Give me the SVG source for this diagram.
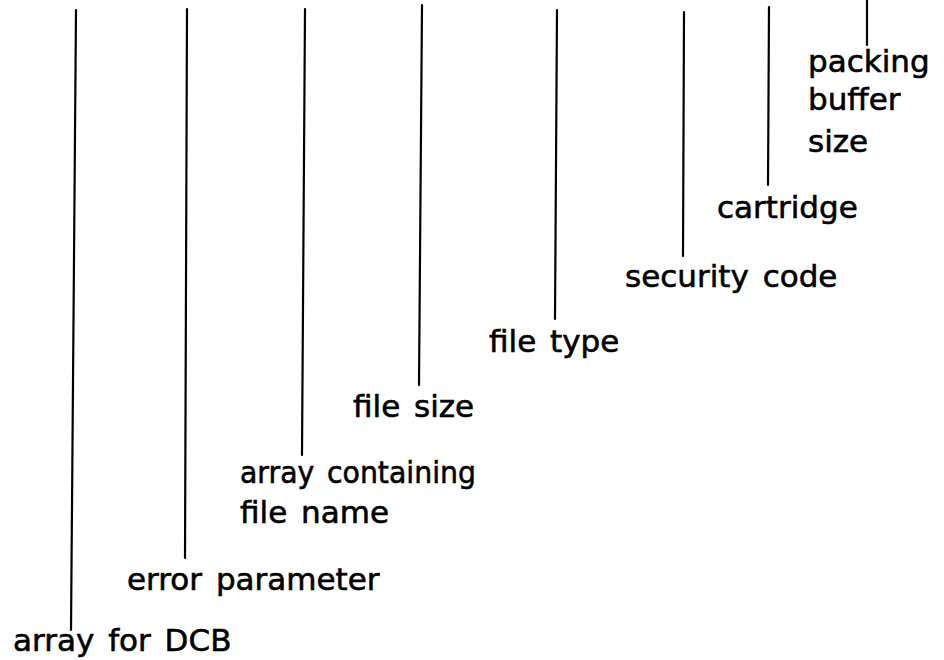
<svg xmlns="http://www.w3.org/2000/svg" width="944" height="660" viewBox="0 0 944 660">
<style>
.ln{stroke:#000;stroke-width:2.2;fill:none;stroke-linecap:round}
.t{font-family:"DejaVu Sans",sans-serif;font-size:31px;fill:#000;stroke:#000;stroke-width:0.6;word-spacing:4px}
</style>
<rect width="944" height="660" fill="#fff"/>
<g id="connectors">
<path class="ln" d="M76,10 L71,630"/>
<path class="ln" d="M187,9 L185,558"/>
<path class="ln" d="M305,9 L302,455"/>
<path class="ln" d="M422,5 L419,385"/>
<path class="ln" d="M557,10 L555,319"/>
<path class="ln" d="M684,12 L683,256"/>
<path class="ln" d="M769,7 L768,185"/>
<path class="ln" d="M867,0 L867,45"/>
</g>
<g id="n1"><text class="t" x="13" y="651">array for DCB</text></g>
<g id="n2"><text class="t" x="127" y="590">error parameter</text></g>
<g id="n3"><text class="t" x="240" y="483" textLength="236" lengthAdjust="spacingAndGlyphs">array containing</text><text class="t" x="240" y="523">file name</text></g>
<g id="n4"><text class="t" x="353" y="417">file size</text></g>
<g id="n5"><text class="t" x="489" y="352">file type</text></g>
<g id="n6"><text class="t" x="625" y="287">security code</text></g>
<g id="n7"><text class="t" x="717" y="218">cartridge</text></g>
<g id="n8"><text class="t" x="808" y="72">packing</text><text class="t" x="808" y="110">buffer</text><text class="t" x="808" y="152">size</text></g>
</svg>
